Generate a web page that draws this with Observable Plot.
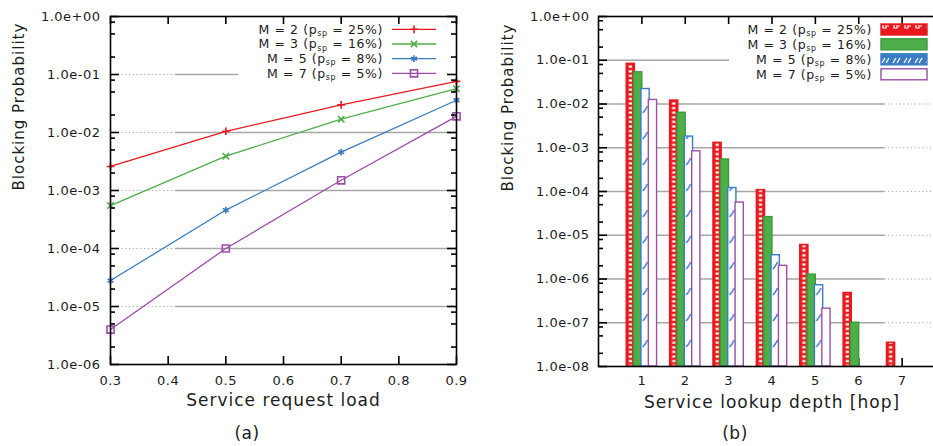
<!DOCTYPE html>
<html><head><meta charset="utf-8">
<script src="https://cdn.jsdelivr.net/npm/d3@7"></script>
<script src="https://cdn.jsdelivr.net/npm/@observablehq/plot@0.6"></script>
<style>
html,body{margin:0;padding:0;background:#fff;overflow:hidden;}
#fig{position:relative;width:933px;height:446px;overflow:hidden;background:#fff;font-family:"DejaVu Sans",sans-serif;color:#1c1c1c;}
.panel{position:absolute;top:0;}
.panel svg{max-width:none;}
.cap{position:absolute;font-size:17px;letter-spacing:0.5px;transform:translate(-50%,-50%);white-space:nowrap;color:#1c1c1c;}
g[aria-label="x-axis tick label"] text, g[aria-label="y-axis tick label"] text{letter-spacing:0.5px;}
.title text{letter-spacing:1px;}
</style>
</head><body><div id="fig"></div>
<script>
// ---------- data ----------
const loads = [0.3, 0.5, 0.7, 0.9];
const seriesM = ["2", "3", "5", "7"];
const seriesPsp = ["25%", "16%", "8%", "5%"];
const colors = ["#e8191e", "#4dae4a", "#3a7cc4", "#9a4ea6"];
const symbolsA = ["plus", "times", "asterisk", "square"];
const blockA_M2 = [2.6e-3, 1.05e-2, 3.0e-2, 7.6e-2];
const blockA_M3 = [5.5e-4, 3.9e-3, 1.7e-2, 5.7e-2];
const blockA_M5 = [2.8e-5, 4.6e-4, 4.6e-3, 3.6e-2];
const blockA_M7 = [4.0e-6, 1.0e-4, 1.5e-3, 1.9e-2];
const hops = [1, 2, 3, 4, 5, 6, 7];
const blockB_M2 = [8.3e-2, 1.2e-2, 1.3e-3, 1.08e-4, 6.0e-6, 4.8e-7, 3.5e-8];
const blockB_M3 = [5.3e-2, 6.3e-3, 5.4e-4, 2.6e-5, 1.26e-6, 1.0e-7, null];
const blockB_M5 = [2.2e-2, 1.8e-3, 1.2e-4, 3.5e-6, 7.2e-7, null, null];
const blockB_M7 = [1.24e-2, 8.3e-4, 5.6e-5, 2.0e-6, 2.1e-7, null, null];
const loadTicks = [0.3, 0.4, 0.5, 0.6, 0.7, 0.8, 0.9];
const loadTickLabels = ["0.3", "0.4", "0.5", "0.6", "0.7", "0.8", "0.9"];
const yTicksA = [1, 1e-1, 1e-2, 1e-3, 1e-4, 1e-5, 1e-6];
const yTickLabelsA = ["1.0e+00", "1.0e-01", "1.0e-02", "1.0e-03", "1.0e-04", "1.0e-05", "1.0e-06"];
const yTicksB = [1, 1e-1, 1e-2, 1e-3, 1e-4, 1e-5, 1e-6, 1e-7, 1e-8];
const yTickLabelsB = ["1.0e+00", "1.0e-01", "1.0e-02", "1.0e-03", "1.0e-04", "1.0e-05", "1.0e-06", "1.0e-07", "1.0e-08"];
const hopTickLabels = ["1", "2", "3", "4", "5", "6", "7"];
const titleXA = "Service request load";
const titleXB = "Service lookup depth [hop]";
const titleY = "Blocking Probability";

// ---------- helpers ----------
const seriesA = [blockA_M2, blockA_M3, blockA_M5, blockA_M7];
const seriesB = [blockB_M2, blockB_M3, blockB_M5, blockB_M7];
const minorMult = [2, 5, 8];
function minors(eMin) { const out = []; for (let e = eMin; e < 0; e++) for (const m of minorMult) out.push(m * Math.pow(10, e)); return out; }
const tickStyle = {stroke: "#000", strokeWidth: 1.6};
function yTickMarks(major, minor, innerW) {
  return [
    Plot.ruleY(major, {y: d => d, insetRight: innerW - 9, ...tickStyle}),
    Plot.ruleY(major, {y: d => d, insetLeft: innerW - 9, ...tickStyle}),
    Plot.ruleY(minor, {y: d => d, insetRight: innerW - 5, ...tickStyle}),
    Plot.ruleY(minor, {y: d => d, insetLeft: innerW - 5, ...tickStyle})
  ];
}
function xTickMarks(values, innerH) {
  return [
    Plot.ruleX(values, {x: d => d, insetTop: innerH - 8, ...tickStyle}),
    Plot.ruleX(values, {x: d => d, insetBottom: innerH - 8, ...tickStyle})
  ];
}
const fmt = (ticks, labels) => d => { const i = ticks.indexOf(d); return i < 0 ? "" : labels[i]; };
const gridStroke = "#a6a6a6";
const symR = {plus: 2.6, times: 3, asterisk: 3.2, square: 4};

const fig = document.getElementById("fig");

// ---------- panel (a) ----------
const rowsA = [];
seriesA.forEach((arr, s) => arr.forEach((v, i) => rowsA.push({load: loads[i], p: v, s})));
const gridA = yTicksA.slice(1, -1);
const plotA = Plot.plot({
  width: 470, height: 446,
  marginLeft: 110, marginRight: 14, marginTop: 16, marginBottom: 82,
  style: {fontFamily: "DejaVu Sans", fontSize: "13px", color: "#1c1c1c", background: "transparent", overflow: "visible", maxWidth: "none"},
  x: {domain: [0.3, 0.9]},
  y: {type: "log", domain: [1e-6, 1]},
  marks: [
    Plot.ruleY(gridA, {y: d => d, x1: 0.3, x2: 0.413, stroke: gridStroke, strokeWidth: 1.2, strokeDasharray: "1.2,2.6"}),
    Plot.ruleY(gridA, {y: d => d, x1: 0.413, x2: d => d === 1e-1 ? 0.522 : 0.9, stroke: gridStroke, strokeWidth: 1.5}),
    ...[0, 1, 2, 3].map(s => Plot.line(rowsA.filter(d => d.s === s), {x: "load", y: "p", stroke: colors[s], strokeWidth: 1.3})),
    ...[0, 1, 2, 3].map(s => Plot.dot(rowsA.filter(d => d.s === s), {x: "load", y: "p", symbol: symbolsA[s], r: symR[symbolsA[s]], stroke: colors[s], fill: "none", strokeWidth: 1.6})),
    ...yTickMarks(yTicksA, minors(-6), 346),
    ...xTickMarks(loadTicks, 348),
    Plot.frame({stroke: "#000", strokeWidth: 1.6}),
    Plot.axisX({ticks: loadTicks, tickSize: 0, tickPadding: 11, tickFormat: fmt(loadTicks, loadTickLabels), label: null, fontSize: 13}),
    Plot.axisY({ticks: yTicksA, tickSize: 0, tickPadding: 10, tickFormat: fmt(yTicksA, yTickLabelsA), label: null, fontSize: 13}),
    Plot.text([titleXA], {text: d => d, frameAnchor: "bottom", dy: 36, lineAnchor: "middle", fontSize: 17, className: "title"}),
    Plot.text([titleY], {text: d => d, frameAnchor: "left", rotate: -90, dx: -91, lineAnchor: "middle", fontSize: 15, className: "title"})
  ]
});
const divA = document.createElement("div"); divA.className = "panel"; divA.style.left = "0px"; divA.style.width = "470px";
divA.appendChild(plotA); fig.appendChild(divA);

// ---------- panel (b) ----------
const offsets = [-0.255, -0.085, 0.085, 0.255];
const barW = 0.19;
const rowsB = [];
seriesB.forEach((arr, s) => arr.forEach((v, i) => { if (v != null) rowsB.push({hop: hops[i], p: v, s}); }));
const gridB = yTicksB.slice(1, -1);
const fillsB = ["url(#patRed)", colors[1], "url(#patBlue)", "white"];
const strokesB = [colors[0], "#3a9a38", colors[2], colors[3]];
const plotB = Plot.plot({
  width: 476, height: 446,
  marginLeft: 128, marginRight: 1, marginTop: 16, marginBottom: 80,
  style: {fontFamily: "DejaVu Sans", fontSize: "13px", color: "#1c1c1c", background: "transparent", overflow: "visible", maxWidth: "none"},
  x: {domain: [0, 8]},
  y: {type: "log", domain: [1e-8, 1]},
  marks: [
    Plot.ruleY(gridB, {y: d => d, x1: 0, x2: d => d === 1e-1 ? 3.02 : 6.6, stroke: gridStroke, strokeWidth: 1.5}),
    Plot.ruleY(gridB.slice(1), {y: d => d, x1: 6.6, x2: 8, stroke: gridStroke, strokeWidth: 1.2, strokeDasharray: "1.2,2.6"}),
    ...yTickMarks(yTicksB, minors(-8), 347),
    ...xTickMarks(hops, 350),
    ...[0, 1, 2, 3].map(s => Plot.rect(rowsB.filter(d => d.s === s), {
      x1: d => d.hop + offsets[s] - barW / 2, x2: d => d.hop + offsets[s] + barW / 2,
      y1: 1e-8, y2: "p", fill: fillsB[s], stroke: strokesB[s], strokeWidth: 1.4
    })),
    Plot.frame({stroke: "#000", strokeWidth: 1.6}),
    Plot.axisX({ticks: hops, tickSize: 0, tickPadding: 9, tickFormat: fmt(hops, hopTickLabels), label: null, fontSize: 13}),
    Plot.axisY({ticks: yTicksB, tickSize: 0, tickPadding: 9, tickFormat: fmt(yTicksB, yTickLabelsB), label: null, fontSize: 13}),
    Plot.text([titleXB], {text: d => d, frameAnchor: "bottom", dy: 36, lineAnchor: "middle", fontSize: 17, className: "title"}),
    Plot.text([titleY], {text: d => d, frameAnchor: "left", rotate: -90, dx: -90, lineAnchor: "middle", fontSize: 15, className: "title"})
  ]
});
const divB = document.createElement("div"); divB.className = "panel"; divB.style.left = "470px"; divB.style.width = "476px";
divB.appendChild(plotB); fig.appendChild(divB);

// ---------- patterns (aligned to bar groups) ----------
let sx;
try { sx = plotB.scale("x"); } catch (e) { sx = null; }
const unitPx = (476 - 128 - 1) / 8;
const px = v => (sx && sx.apply) ? sx.apply(v) : 128 + v / 8 * (476 - 129);
const redLeft = px(1 + offsets[0] - barW / 2);
const blueLeft = px(1 + offsets[2] - barW / 2);
const defs = d3.select(fig).append("svg").attr("width", 0).attr("height", 0)
  .style("position", "absolute").style("left", 0).style("top", 0).append("defs");
const pr = defs.append("pattern").attr("id", "patRed").attr("patternUnits", "userSpaceOnUse")
  .attr("width", unitPx).attr("height", 4.6).attr("patternTransform", `translate(${redLeft},0)`);
pr.append("rect").attr("width", unitPx).attr("height", 4.6).attr("fill", colors[0]);
pr.append("rect").attr("x", 2.6).attr("y", 1.2).attr("width", 3.2).attr("height", 2.2).attr("fill", "white");
const pb = defs.append("pattern").attr("id", "patBlue").attr("patternUnits", "userSpaceOnUse")
  .attr("width", unitPx).attr("height", 26).attr("patternTransform", `translate(${blueLeft},0)`);
pb.append("rect").attr("width", unitPx).attr("height", 26).attr("fill", "white");
pb.append("path").attr("d", "M1.8,9 Q4,7 6.6,2").attr("stroke", colors[2]).attr("stroke-width", 1.6).attr("fill", "none");
// legend swatch patterns
const lr = defs.append("pattern").attr("id", "legRed").attr("patternUnits", "userSpaceOnUse").attr("width", 11).attr("height", 11);
lr.append("rect").attr("width", 11).attr("height", 11).attr("fill", colors[0]);
lr.append("path").attr("d", "M3,3 L3,6 L6,6 L6,3 M7,4 L9,4").attr("stroke", "white").attr("stroke-width", 1.2).attr("fill", "none");
const lb = defs.append("pattern").attr("id", "legBlue").attr("patternUnits", "userSpaceOnUse").attr("width", 11).attr("height", 11);
lb.append("rect").attr("width", 11).attr("height", 11).attr("fill", colors[2]);
lb.append("path").attr("d", "M2,8 L5,3 M6,8 L9,3").attr("stroke", "white").attr("stroke-width", 1.3).attr("fill", "none");

// ---------- legends ----------
const leg = d3.select(fig).append("svg").attr("width", 933).attr("height", 446)
  .style("position", "absolute").style("left", 0).style("top", 0).style("pointer-events", "none")
  .style("font-family", "DejaVu Sans").style("font-size", "12.5px");
const rowYA = [29.3, 44, 58.7, 73.3];
const rowYB = [29.5, 44.3, 59.3, 74.3];
const d3sym = {plus: d3.symbolPlus, times: d3.symbolTimes, asterisk: d3.symbolAsterisk, square: d3.symbolSquare};
function legendLabel(g, x, y, i) {
  const t = g.append("text").attr("x", x).attr("y", y).attr("dy", "0.34em").attr("text-anchor", "end")
    .attr("fill", "#1c1c1c").style("letter-spacing", "0.6px");
  t.append("tspan").text(`M = ${seriesM[i]} (p`);
  t.append("tspan").attr("dy", 2.5).style("font-size", "8px").text("sp");
  t.append("tspan").attr("dy", -2.5).text(` = ${seriesPsp[i]})`);
}
seriesM.forEach((m, i) => {
  legendLabel(leg, 383, rowYA[i], i);
  leg.append("line").attr("x1", 392).attr("x2", 436).attr("y1", rowYA[i]).attr("y2", rowYA[i])
    .attr("stroke", colors[i]).attr("stroke-width", 1.3);
  const r = symR[symbolsA[i]];
  leg.append("path").attr("transform", `translate(414,${rowYA[i]})`)
    .attr("d", d3.symbol(d3sym[symbolsA[i]], r * r * Math.PI)())
    .attr("stroke", colors[i]).attr("stroke-width", 1.6).attr("fill", "none");
  legendLabel(leg, 872, rowYB[i], i);
  const sw = ["url(#legRed)", colors[1], "url(#legBlue)", "white"][i];
  leg.append("rect").attr("x", 881).attr("y", rowYB[i] - 5.5).attr("width", 46).attr("height", 11)
    .attr("fill", sw).attr("stroke", strokesB[i]).attr("stroke-width", 1.4);
});

// ---------- captions ----------
[["(a)", 247, 433], ["(b)", 735, 433]].forEach(([t, x, y]) => {
  const c = document.createElement("div"); c.className = "cap"; c.textContent = t;
  c.style.left = x + "px"; c.style.top = y + "px"; fig.appendChild(c);
});
</script>
</body></html>
